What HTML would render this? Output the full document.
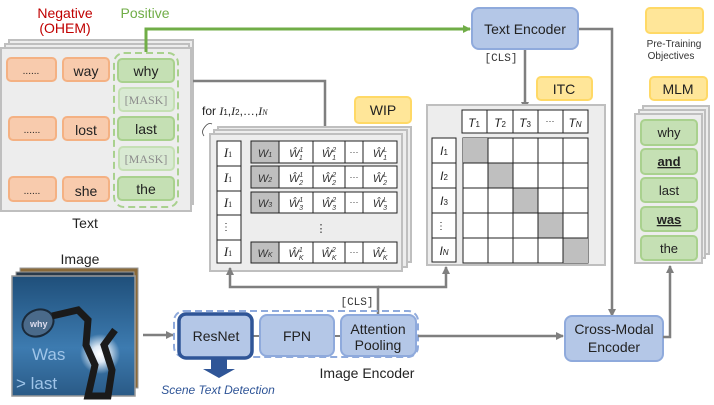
<!DOCTYPE html>
<html><head><meta charset="utf-8"><style>
html,body{margin:0;padding:0;background:#fff}
svg{display:block}
text{font-family:"Liberation Sans",sans-serif}
.s{font-family:"Liberation Serif",serif;font-style:italic}
</style></head><body>
<svg width="714" height="405" viewBox="0 0 714 405" xmlns="http://www.w3.org/2000/svg">
<defs>
<marker id="ag" markerWidth="8" markerHeight="8" refX="7" refY="4" orient="auto" markerUnits="userSpaceOnUse"><path d="M0,0 L8,4 L0,8z" fill="#7f7f7f"/></marker>
<marker id="agr" markerWidth="8" markerHeight="8" refX="7" refY="4" orient="auto" markerUnits="userSpaceOnUse"><path d="M0,0 L8,4 L0,8z" fill="#70ad47"/></marker>
<linearGradient id="sky" x1="0" y1="0" x2="0" y2="1"><stop offset="0" stop-color="#1f4f7a"/><stop offset="0.6" stop-color="#3d7bb0"/><stop offset="1" stop-color="#2a5a86"/></linearGradient>
<radialGradient id="sun" cx="0.5" cy="0.5" r="0.5"><stop offset="0" stop-color="#fff"/><stop offset="0.4" stop-color="#dfeaf5"/><stop offset="1" stop-color="#dfeaf5" stop-opacity="0"/></radialGradient>
</defs>

<!-- Text panel -->
<text x="65" y="18" font-size="14" fill="#c00000" text-anchor="middle">Negative</text>
<text x="65" y="33" font-size="14" fill="#c00000" text-anchor="middle">(OHEM)</text>
<text x="145" y="18" font-size="14" fill="#70ad47" text-anchor="middle">Positive</text>
<rect x="9" y="40" width="184" height="164" fill="#ededed" stroke="#bfbfbf" stroke-width="2"/>
<rect x="5" y="44" width="184" height="164" fill="#ededed" stroke="#bfbfbf" stroke-width="2"/>
<rect x="1" y="48" width="190" height="163" fill="#ededed" stroke="#bfbfbf" stroke-width="2"/>
<g fill="#f8cbad" stroke="#f4b183" stroke-width="2">
<rect x="7" y="58" width="49" height="23" rx="4"/><rect x="63" y="58" width="46" height="23" rx="4"/>
<rect x="9" y="117" width="47" height="23" rx="4"/><rect x="63" y="117" width="46" height="23" rx="4"/>
<rect x="9" y="177" width="47" height="24" rx="4"/><rect x="63" y="177" width="46" height="24" rx="4"/>
</g>
<g font-size="14" fill="#222" text-anchor="middle">
<text x="31" y="74" font-size="10">......</text><text x="86" y="76">way</text>
<text x="32" y="133" font-size="10">......</text><text x="86" y="135">lost</text>
<text x="32" y="194" font-size="10">......</text><text x="86" y="196">she</text>
</g>
<rect x="114" y="53" width="64" height="154" rx="10" fill="none" stroke="#a9d18e" stroke-width="2" stroke-dasharray="7,4"/>
<g stroke="#a9d18e" stroke-width="2">
<rect x="118" y="59" width="56" height="23" rx="4" fill="#c5e0b4"/>
<rect x="119" y="88" width="55" height="23" rx="4" fill="#d9ead3" stroke="#c5e0b4"/>
<rect x="118" y="117" width="56" height="23" rx="4" fill="#c5e0b4"/>
<rect x="119" y="147" width="55" height="23" rx="4" fill="#d9ead3" stroke="#c5e0b4"/>
<rect x="118" y="177" width="56" height="23" rx="4" fill="#c5e0b4"/>
</g>
<g font-size="14" fill="#222" text-anchor="middle">
<text x="146" y="76">why</text><text x="146" y="134">last</text><text x="146" y="194">the</text>
</g>
<g font-size="12" fill="#8c8c8c" text-anchor="middle">
<text x="146" y="104" style="font-family:'Liberation Serif',serif">[MASK]</text>
<text x="146" y="163" style="font-family:'Liberation Serif',serif">[MASK]</text>
</g>
<text x="85" y="228" font-size="14" fill="#222" text-anchor="middle">Text</text>

<!-- connectors top -->
<path d="M146,52 V29 H470" fill="none" stroke="#70ad47" stroke-width="3" marker-end="url(#agr)"/>
<path d="M193,81 H325 V140" fill="none" stroke="#7f7f7f" stroke-width="2.5" marker-end="url(#ag)"/>
<path d="M578,29 H612 V316" fill="none" stroke="#7f7f7f" stroke-width="2.5" marker-end="url(#ag)"/>
<path d="M525,50 V109" fill="none" stroke="#7f7f7f" stroke-width="2.5" marker-end="url(#ag)"/>

<!-- Text encoder -->
<rect x="472" y="8" width="106" height="41" rx="7" fill="#b4c7e7" stroke="#8faadc" stroke-width="2"/>
<text x="525" y="34" font-size="14" fill="#222" text-anchor="middle">Text Encoder</text>
<text x="501" y="61" font-size="11" fill="#333" text-anchor="middle" style="font-family:'Liberation Mono',monospace">[CLS]</text>

<!-- Legend -->
<rect x="646" y="8" width="57" height="25" rx="4" fill="#ffe699" stroke="#ffd966" stroke-width="2"/>
<text x="674" y="47" font-size="10" fill="#333" text-anchor="middle">Pre-Training</text>
<text x="671" y="59" font-size="10" fill="#333" text-anchor="middle">Objectives</text>

<!-- WIP -->
<text x="202" y="115" font-size="12" fill="#222">for <tspan class="s">I</tspan><tspan font-size="8">1</tspan>,<tspan class="s">I</tspan><tspan font-size="8">2</tspan>,…,<tspan class="s">I</tspan><tspan font-size="8" class="s">N</tspan></text>
<path d="M204,128 q4,-6 8,-4 M204,128 q-3,4 0,8" fill="none" stroke="#444" stroke-width="0.8"/>
<rect x="355" y="97" width="56" height="26" rx="4" fill="#ffe699" stroke="#ffd966" stroke-width="2"/>
<text x="383" y="115" font-size="14" fill="#222" text-anchor="middle">WIP</text>
<rect x="218" y="127" width="193" height="135" fill="#ededed" stroke="#bfbfbf" stroke-width="2"/>
<rect x="214" y="130" width="193" height="137" fill="#ededed" stroke="#bfbfbf" stroke-width="2"/>
<rect x="210" y="134" width="192" height="137" fill="#ededed" stroke="#bfbfbf" stroke-width="2"/>
<rect x="217" y="141" width="24" height="122" fill="#fff" stroke="#222" stroke-width="1"/>
<g stroke="#222" stroke-width="1"><line x1="217" y1="166" x2="241" y2="166"/><line x1="217" y1="191" x2="241" y2="191"/><line x1="217" y1="215" x2="241" y2="215"/><line x1="217" y1="240" x2="241" y2="240"/></g>
<g font-size="13" fill="#222" text-anchor="middle">
<text x="228" y="157" class="s">I<tspan font-size="8" font-style="normal">1</tspan></text>
<text x="228" y="182" class="s">I<tspan font-size="8" font-style="normal">1</tspan></text>
<text x="228" y="207" class="s">I<tspan font-size="8" font-style="normal">1</tspan></text>
<text x="226" y="230" font-size="10">⋮</text>
<text x="228" y="256" class="s">I<tspan font-size="8" font-style="normal">1</tspan></text>
</g>
<g stroke="#222" stroke-width="1">
<g transform="translate(0,141)">
<rect x="251" y="0" width="146" height="22" fill="#fff"/><rect x="251" y="0" width="28" height="22" fill="#bfbfbf"/>
<line x1="279" y1="0" x2="279" y2="22"/><line x1="313" y1="0" x2="313" y2="22"/><line x1="345" y1="0" x2="345" y2="22"/><line x1="363" y1="0" x2="363" y2="22"/>
</g>
<g transform="translate(0,166)">
<rect x="251" y="0" width="146" height="22" fill="#fff"/><rect x="251" y="0" width="28" height="22" fill="#bfbfbf"/>
<line x1="279" y1="0" x2="279" y2="22"/><line x1="313" y1="0" x2="313" y2="22"/><line x1="345" y1="0" x2="345" y2="22"/><line x1="363" y1="0" x2="363" y2="22"/>
</g>
<g transform="translate(0,192)">
<rect x="251" y="0" width="146" height="21" fill="#fff"/><rect x="251" y="0" width="28" height="21" fill="#bfbfbf"/>
<line x1="279" y1="0" x2="279" y2="21"/><line x1="313" y1="0" x2="313" y2="21"/><line x1="345" y1="0" x2="345" y2="21"/><line x1="363" y1="0" x2="363" y2="21"/>
</g>
<g transform="translate(0,242)">
<rect x="251" y="0" width="146" height="21" fill="#fff"/><rect x="251" y="0" width="28" height="21" fill="#bfbfbf"/>
<line x1="279" y1="0" x2="279" y2="21"/><line x1="313" y1="0" x2="313" y2="21"/><line x1="345" y1="0" x2="345" y2="21"/><line x1="363" y1="0" x2="363" y2="21"/>
</g>
</g>
<g font-size="11" fill="#333" text-anchor="middle" style="font-family:'Liberation Serif',serif;font-style:italic">
<text x="265" y="157">W<tspan font-size="7">1</tspan></text><text x="296" y="157">Ŵ<tspan font-size="7" dy="-5">1</tspan><tspan font-size="7" dx="-4" dy="8">1</tspan></text><text x="329" y="157">Ŵ<tspan font-size="7" dy="-5">2</tspan><tspan font-size="7" dx="-4" dy="8">1</tspan></text><text x="354" y="155" font-style="normal" font-size="9">···</text><text x="380" y="157">Ŵ<tspan font-size="7" dy="-5">L</tspan><tspan font-size="7" dx="-4" dy="8">1</tspan></text>
<text x="265" y="182">W<tspan font-size="7">2</tspan></text><text x="296" y="182">Ŵ<tspan font-size="7" dy="-5">1</tspan><tspan font-size="7" dx="-4" dy="8">2</tspan></text><text x="329" y="182">Ŵ<tspan font-size="7" dy="-5">2</tspan><tspan font-size="7" dx="-4" dy="8">2</tspan></text><text x="354" y="180" font-style="normal" font-size="9">···</text><text x="380" y="182">Ŵ<tspan font-size="7" dy="-5">L</tspan><tspan font-size="7" dx="-4" dy="8">2</tspan></text>
<text x="265" y="207">W<tspan font-size="7">3</tspan></text><text x="296" y="207">Ŵ<tspan font-size="7" dy="-5">1</tspan><tspan font-size="7" dx="-4" dy="8">3</tspan></text><text x="329" y="207">Ŵ<tspan font-size="7" dy="-5">2</tspan><tspan font-size="7" dx="-4" dy="8">3</tspan></text><text x="354" y="205" font-style="normal" font-size="9">···</text><text x="380" y="207">Ŵ<tspan font-size="7" dy="-5">L</tspan><tspan font-size="7" dx="-4" dy="8">3</tspan></text>
<text x="321" y="232" font-style="normal" font-size="11">⋮</text>
<text x="265" y="257">W<tspan font-size="7">K</tspan></text><text x="296" y="257">Ŵ<tspan font-size="7" dy="-5">1</tspan><tspan font-size="7" dx="-4" dy="8">K</tspan></text><text x="329" y="257">Ŵ<tspan font-size="7" dy="-5">2</tspan><tspan font-size="7" dx="-4" dy="8">K</tspan></text><text x="354" y="255" font-style="normal" font-size="9">···</text><text x="380" y="257">Ŵ<tspan font-size="7" dy="-5">L</tspan><tspan font-size="7" dx="-4" dy="8">K</tspan></text>
</g>

<!-- ITC -->
<rect x="537" y="77" width="55" height="23" rx="4" fill="#ffe699" stroke="#ffd966" stroke-width="2"/>
<text x="564" y="94" font-size="14" fill="#222" text-anchor="middle">ITC</text>
<rect x="427" y="105" width="178" height="160" fill="#ededed" stroke="#bfbfbf" stroke-width="2"/>
<g stroke="#222" stroke-width="1" fill="#fff">
<rect x="462" y="110" width="126" height="23"/>
<line x1="487" y1="110" x2="487" y2="133"/><line x1="513" y1="110" x2="513" y2="133"/><line x1="538" y1="110" x2="538" y2="133"/><line x1="563" y1="110" x2="563" y2="133"/>
<rect x="432" y="138" width="24" height="124"/>
<line x1="432" y1="163" x2="456" y2="163"/><line x1="432" y1="188" x2="456" y2="188"/><line x1="432" y1="213" x2="456" y2="213"/><line x1="432" y1="238" x2="456" y2="238"/>
<rect x="463" y="138" width="125" height="125"/>
</g>
<g fill="#bfbfbf"><rect x="463" y="138" width="25" height="25"/><rect x="488" y="163" width="25" height="25"/><rect x="513" y="188" width="25" height="25"/><rect x="538" y="213" width="25" height="25"/><rect x="563" y="238" width="25" height="25"/></g>
<g stroke="#222" stroke-width="1">
<line x1="488" y1="138" x2="488" y2="263"/><line x1="513" y1="138" x2="513" y2="263"/><line x1="538" y1="138" x2="538" y2="263"/><line x1="563" y1="138" x2="563" y2="263"/>
<line x1="463" y1="163" x2="588" y2="163"/><line x1="463" y1="188" x2="588" y2="188"/><line x1="463" y1="213" x2="588" y2="213"/><line x1="463" y1="238" x2="588" y2="238"/>
</g>
<g font-size="12" fill="#222" text-anchor="middle" style="font-family:'Liberation Serif',serif;font-style:italic">
<text x="474" y="127">T<tspan font-size="8" font-style="normal">1</tspan></text><text x="500" y="127">T<tspan font-size="8" font-style="normal">2</tspan></text><text x="525" y="127">T<tspan font-size="8" font-style="normal">3</tspan></text><text x="550" y="124" font-style="normal" font-size="9">···</text><text x="575" y="127">T<tspan font-size="8">N</tspan></text>
<text x="444" y="155">I<tspan font-size="8" font-style="normal">1</tspan></text><text x="444" y="180">I<tspan font-size="8" font-style="normal">2</tspan></text><text x="444" y="205">I<tspan font-size="8" font-style="normal">3</tspan></text><text x="441" y="229" font-style="normal" font-size="10">⋮</text><text x="444" y="255">I<tspan font-size="8">N</tspan></text>
</g>

<!-- MLM -->
<rect x="650" y="77" width="57" height="23" rx="4" fill="#ffe699" stroke="#ffd966" stroke-width="2"/>
<text x="678" y="94" font-size="14" fill="#222" text-anchor="middle">MLM</text>
<rect x="643" y="106" width="66" height="148" fill="#ededed" stroke="#bfbfbf" stroke-width="2"/>
<rect x="639" y="110" width="66" height="148" fill="#ededed" stroke="#bfbfbf" stroke-width="2"/>
<rect x="635" y="114" width="67" height="149" fill="#ededed" stroke="#bfbfbf" stroke-width="2"/>
<g fill="#c5e0b4" stroke="#a9d18e" stroke-width="2">
<rect x="641" y="120" width="56" height="25" rx="4"/><rect x="641" y="149" width="56" height="25" rx="4"/><rect x="641" y="178" width="56" height="24" rx="4"/><rect x="641" y="207" width="56" height="24" rx="4"/><rect x="641" y="236" width="56" height="24" rx="4"/>
</g>
<g font-size="13" fill="#222" text-anchor="middle">
<text x="669" y="137">why</text><text x="669" y="166" font-weight="bold" text-decoration="underline">and</text><text x="669" y="195">last</text><text x="669" y="224" font-weight="bold" text-decoration="underline">was</text><text x="669" y="253">the</text>
</g>

<!-- CLS connectors -->
<path d="M378,314 V287 H230 V268" fill="none" stroke="#7f7f7f" stroke-width="2.5" marker-end="url(#ag)"/>
<path d="M378,287 H446 V267" fill="none" stroke="#7f7f7f" stroke-width="2.5" marker-end="url(#ag)"/>
<text x="357" y="305" font-size="11" fill="#333" text-anchor="middle" style="font-family:'Liberation Mono',monospace">[CLS]</text>

<!-- Image -->
<text x="80" y="264" font-size="14" fill="#222" text-anchor="middle">Image</text>
<rect x="20" y="268" width="118" height="120" fill="#8a6a3a" stroke="#999"/>
<rect x="16" y="272" width="118" height="120" fill="#2a3a4a" stroke="#999"/>
<rect x="12" y="276" width="123" height="120" fill="url(#sky)" stroke="#999" stroke-width="1.5"/>
<circle cx="100" cy="354" r="20" fill="url(#sun)"/>
<ellipse cx="38" cy="323" rx="16" ry="13" fill="#4a6a8a" stroke="#1a2a3a" stroke-width="2" transform="rotate(-25 38 323)"/>
<path d="M52,316 L78,310 L88,320 L86,345 L95,365 L88,396 L108,396 L112,370 L104,345 L115,330" fill="none" stroke="#1a1a1a" stroke-width="7"/>
<text x="30" y="327" font-size="9" fill="#dde" font-weight="bold">why</text>
<text x="32" y="360" font-size="17" fill="#9fc4e8">Was</text>
<text x="16" y="389" font-size="17" fill="#9fc4e8">&gt; last</text>
<path d="M143,335 H173" stroke="#7f7f7f" stroke-width="2.5" marker-end="url(#ag)"/>

<!-- Image encoder -->
<rect x="174" y="311" width="244" height="46" rx="10" fill="none" stroke="#8faadc" stroke-width="2" stroke-dasharray="7,4"/>
<line x1="252" y1="336" x2="260" y2="336" stroke="#7f7f7f" stroke-width="2"/>
<line x1="334" y1="336" x2="340" y2="336" stroke="#7f7f7f" stroke-width="2"/>
<rect x="179" y="314" width="73" height="44" rx="7" fill="#b4c7e7" stroke="#2f5597" stroke-width="3.5"/>
<rect x="260" y="315" width="74" height="41" rx="7" fill="#b4c7e7" stroke="#8faadc" stroke-width="2"/>
<rect x="341" y="315" width="75" height="41" rx="7" fill="#b4c7e7" stroke="#8faadc" stroke-width="2"/>
<g font-size="14" fill="#222" text-anchor="middle">
<text x="216" y="341">ResNet</text><text x="297" y="341">FPN</text><text x="378" y="334">Attention</text><text x="378" y="350">Pooling</text>
<text x="367" y="378">Image Encoder</text>
</g>
<path d="M211,359 H227 V369 H235 L219,378 L203,369 H211z" fill="#2f5597"/>
<text x="218" y="394" font-size="12" fill="#2f5597" font-style="italic" text-anchor="middle">Scene Text Detection</text>

<!-- cross modal -->
<path d="M418,336 H563" stroke="#7f7f7f" stroke-width="2.5" marker-end="url(#ag)"/>
<rect x="565" y="316" width="98" height="45" rx="7" fill="#b4c7e7" stroke="#8faadc" stroke-width="2"/>
<text x="614" y="334" font-size="14" fill="#222" text-anchor="middle">Cross-Modal</text>
<text x="614" y="352" font-size="14" fill="#222" text-anchor="middle">Encoder</text>
<path d="M663,337 H670 V266" fill="none" stroke="#7f7f7f" stroke-width="2.5" marker-end="url(#ag)"/>
</svg>
</body></html>
